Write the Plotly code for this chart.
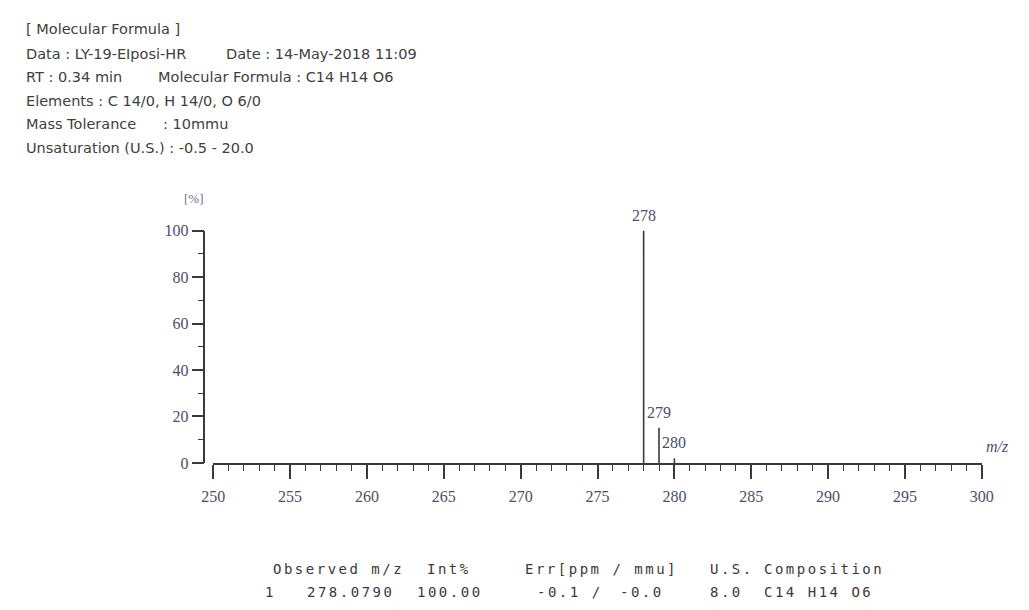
import plotly.graph_objects as go

W, H = 1029, 610

# ---------------- data ----------------
header_lines = [
    ["[ Molecular Formula ]"],
    ["Data : LY-19-EIposi-HR", "Date : 14-May-2018 11:09"],
    ["RT : 0.34 min", "Molecular Formula : C14 H14 O6"],
    ["Elements : C 14/0, H 14/0, O 6/0"],
    ["Mass Tolerance", ": 10mmu"],
    ["Unsaturation (U.S.) : -0.5 - 20.0"],
]

peak_mz = [278, 279, 280]
peak_int = [100.0, 15.2, 2.0]
peak_labels = ["278", "279", "280"]

x_min, x_max, x_major, x_minor = 250, 300, 5, 1
y_min, y_max, y_major, y_minor = 0, 100, 20, 10
y_unit = "[%]"
x_unit = "m/z"

table_header = ["Observed m/z", "Int%", "Err[ppm / mmu]", "U.S.", "Composition"]
table_row = ["1", "278.0790", "100.00", "-0.1 /", "-0.0", "8.0", "C14 H14 O6"]

# ---------------- layout helpers (styles / positions) ----------------
def px(x):
    return x / W

def py(y):
    return 1 - y / H

header_y = [22, 47, 71, 96, 119, 144]
header_x2 = {1: 217, 2: 147, 4: 153}
header_x1 = 12
header_font = dict(family="DejaVu Sans", size=14.5, color="#404040")

table_header_x = [265, 423, 523, 713, 768]
table_row_x = [257, 300, 413, 535, 620, 713, 768]
table_y = [577, 601]
table_font = dict(family="DejaVu Sans Mono", size=14, color="#3a3a3a")
spacing = "letter-spacing:2.5px"

axis_color = "#3a3a3a"
tick_font = dict(family="Liberation Serif", size=16, color="#4e4e66")

x_left_px, x_right_px = 206, 993
y_top_px, y_bot_px = 229, 468
yaxis_px = 197

fig = go.Figure()

# stick spectrum built from the data arrays
sx, sy = [], []
for m, v in zip(peak_mz, peak_int):
    sx += [m, m, None]
    sy += [0, v, None]
fig.add_trace(go.Scatter(x=sx, y=sy, mode="lines",
                         line=dict(color=axis_color, width=1.6),
                         hoverinfo="skip", showlegend=False, cliponaxis=False))

annotations = []
for i, parts in enumerate(header_lines):
    annotations.append(dict(text=parts[0], x=px(header_x1), y=py(header_y[i]),
                            xref="paper", yref="paper", xanchor="left", yanchor="middle",
                            showarrow=False, font=header_font))
    if len(parts) > 1:
        annotations.append(dict(text=parts[1], x=px(header_x2[i]), y=py(header_y[i]),
                                xref="paper", yref="paper", xanchor="left", yanchor="middle",
                                showarrow=False, font=header_font))

for m, v, lab in zip(peak_mz, peak_int, peak_labels):
    annotations.append(dict(text=lab, x=m, y=v, xref="x", yref="y",
                            xanchor="center", yanchor="bottom", yshift=5,
                            showarrow=False, font=tick_font))

annotations.append(dict(text=y_unit, x=px(186), y=py(196), xref="paper", yref="paper",
                        xanchor="center", yanchor="middle", showarrow=False,
                        font=dict(family="Liberation Serif", size=13, color="#6a7090")))
annotations.append(dict(text="<i>" + x_unit + "</i>", x=x_max, y=0, xref="x", yref="y",
                        xanchor="left", yanchor="bottom", xshift=2, yshift=6,
                        showarrow=False,
                        font=dict(family="Liberation Serif", size=16, color="#505068")))

for txt, xx in zip(table_header, table_header_x):
    annotations.append(dict(text=f'<span style="{spacing}">{txt}</span>',
                            x=px(xx), y=py(table_y[0]), xref="paper", yref="paper",
                            xanchor="left", yanchor="middle", showarrow=False, font=table_font))
for txt, xx in zip(table_row, table_row_x):
    annotations.append(dict(text=f'<span style="{spacing}">{txt}</span>',
                            x=px(xx), y=py(table_y[1]), xref="paper", yref="paper",
                            xanchor="left", yanchor="middle", showarrow=False, font=table_font))

fig.update_layout(
    width=W, height=H,
    margin=dict(l=0, r=0, t=0, b=0),
    paper_bgcolor="white", plot_bgcolor="white",
    showlegend=False,
    annotations=annotations,
    xaxis=dict(
        domain=[px(x_left_px), px(x_right_px)],
        range=[x_min, x_max], dtick=x_major, tick0=x_min,
        showgrid=False, zeroline=False,
        showline=True, linecolor=axis_color, linewidth=1.5,
        ticks="outside", ticklen=14, tickwidth=1.5, tickcolor=axis_color,
        tickfont=tick_font, ticklabelstandoff=4,
        minor=dict(dtick=x_minor, tick0=x_min, ticks="outside", ticklen=6,
                   tickwidth=1.3, tickcolor=axis_color, showgrid=False),
        anchor="y",
    ),
    yaxis=dict(
        domain=[py(y_bot_px), py(y_top_px)],
        range=[y_min, y_max], dtick=y_major, tick0=y_min,
        showgrid=False, zeroline=False,
        showline=True, linecolor=axis_color, linewidth=1.5,
        ticks="outside", ticklen=12, tickwidth=1.5, tickcolor=axis_color,
        tickfont=tick_font,
        minor=dict(dtick=y_minor, tick0=y_min, ticks="outside", ticklen=6,
                   tickwidth=1.3, tickcolor=axis_color, showgrid=False),
        anchor="free", position=px(yaxis_px),
    ),
)

fig.write_html("out.html",
               config={"displayModeBar": False},
               post_script="document.body.style.margin='0';document.body.style.overflow='hidden';")
